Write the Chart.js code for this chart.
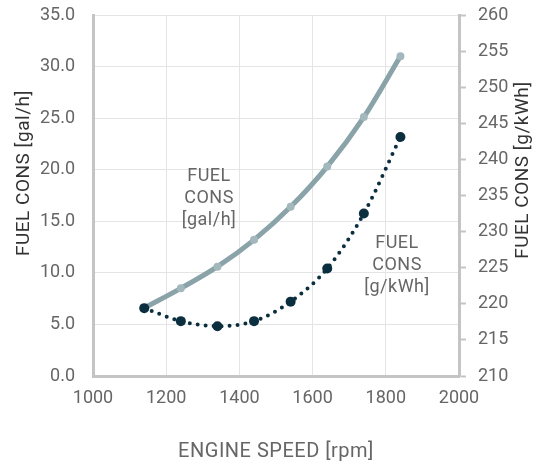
<!DOCTYPE html>
<html>
<head>
<meta charset="utf-8">
<script src="https://cdn.jsdelivr.net/npm/chart.js@4.4.0/dist/chart.umd.min.js"></script>
<style>
    html, body { margin: 0; padding: 0; background: #fff; }
    canvas { display: block; }
</style>
</head>
<body>
<canvas id="fuel-chart" width="545" height="467"></canvas>
<script>
// engine speed [rpm]
var engineSpeed = [1140, 1240, 1340, 1440, 1540, 1640, 1740, 1840];
// fuel consumption [gal/h]
var fuelGalH = [6.6, 8.5, 10.6, 13.2, 16.4, 20.3, 25.1, 31.0];
// specific fuel consumption [g/kWh]
var fuelGKWh = [219.4, 217.6, 216.9, 217.6, 220.3, 224.9, 232.5, 243.1];

var xTicks = [1000, 1200, 1400, 1600, 1800, 2000];
var leftTicks = [0, 5, 10, 15, 20, 25, 30, 35];
var rightTicks = [210, 215, 220, 225, 230, 235, 240, 245, 250, 255, 260];

var FONT = "Roboto, 'DejaVu Sans', sans-serif";
var axisColor = "#c4c4c4";
var gridColor = "#e4e4e4";
var textColor = "#666666";

function toPoints(xs, ys) {
    return xs.map((x, i) => ({ x: x, y: ys[i] }));
}

// titles and inline labels drawn on the canvas
var labelPlugin = {
    id: "labels",
    afterDraw: function (chart) {
        const ctx = chart.ctx;
        ctx.save();
        ctx.textAlign = "center";
        ctx.textBaseline = "middle";
        ctx.letterSpacing = "0.5px";

        ctx.fillStyle = textColor;
        ctx.font = "18px " + FONT;
        ["FUEL", "CONS", "[gal/h]"].forEach((t, i) => ctx.fillText(t, 209, 176 + i * 22));
        ["FUEL", "CONS", "[g/kWh]"].forEach((t, i) => ctx.fillText(t, 397, 243 + i * 22));

        ctx.font = "20px " + FONT;
        ctx.fillText("ENGINE SPEED [rpm]", 276, 452);

        ctx.fillStyle = "#333333";
        ctx.font = "19px " + FONT;
        ctx.save();
        ctx.translate(24, 173);
        ctx.rotate(-Math.PI / 2);
        ctx.fillText("FUEL CONS [gal/h]", 0, 0);
        ctx.restore();

        ctx.save();
        ctx.translate(523, 170);
        ctx.rotate(-Math.PI / 2);
        ctx.fillText("FUEL CONS [g/kWh]", 0, 0);
        ctx.restore();

        ctx.restore();
    }
};

// fixed box sizes so the plot area lands where the reference has it
function fitY(width) {
    return function (scale) {
        scale.width = width;
        scale.paddingTop = 0;
        scale.paddingBottom = 0;
    };
}

var ctx = document.getElementById("fuel-chart").getContext("2d");
var myChart = new Chart(ctx, {
    type: "line",
    data: {
        datasets: [{
            label: "FUEL CONS [gal/h]",
            data: toPoints(engineSpeed, fuelGalH),
            yAxisID: "y",
            order: 1,
            borderColor: "#8aa3a9",
            backgroundColor: "#a3b8bd",
            borderWidth: 5,
            pointRadius: 4,
            pointBorderWidth: 0,
            cubicInterpolationMode: "monotone"
        }, {
            label: "FUEL CONS [g/kWh]",
            data: toPoints(engineSpeed, fuelGKWh),
            yAxisID: "y2",
            order: 0,
            borderColor: "#0b2f3f",
            backgroundColor: "#0b2f3f",
            borderWidth: 4,
            borderDash: [0, 8],
            borderCapStyle: "round",
            pointRadius: 5,
            pointBorderWidth: 0,
            cubicInterpolationMode: "monotone"
        }]
    },
    options: {
        responsive: false,
        animation: false,
        devicePixelRatio: 1,
        layout: { padding: { top: 15 } },
        plugins: {
            legend: { display: false },
            tooltip: { enabled: false }
        },
        scales: {
            x: {
                type: "linear",
                min: 1000,
                max: 2000,
                afterBuildTicks: function (scale) {
                    scale.ticks = xTicks.map(v => ({ value: v }));
                },
                afterFit: function (scale) {
                    scale.height = 91;
                    scale.paddingLeft = 0;
                    scale.paddingRight = 0;
                },
                grid: { color: gridColor, drawTicks: false },
                border: { color: axisColor, width: 3 },
                ticks: {
                    color: textColor, font: { family: FONT, size: 18 }, padding: 12, maxRotation: 0,
                    callback: function (value) { return String(value); }
                }
            },
            y: {
                position: "left",
                min: 0,
                max: 35,
                afterBuildTicks: function (scale) {
                    scale.ticks = leftTicks.map(v => ({ value: v }));
                },
                afterFit: fitY(93),
                grid: { color: gridColor, drawTicks: false },
                border: { color: axisColor, width: 3 },
                ticks: {
                    color: textColor, font: { family: FONT, size: 18 }, padding: 18,
                    callback: function (value) { return value.toFixed(1); }
                }
            },
            y2: {
                position: "right",
                min: 210,
                max: 260,
                afterBuildTicks: function (scale) {
                    scale.ticks = rightTicks.map(v => ({ value: v }));
                },
                afterFit: fitY(86),
                grid: { drawOnChartArea: false, color: axisColor, tickLength: 7, tickWidth: 2 },
                border: { color: axisColor, width: 3 },
                ticks: {
                    color: textColor, font: { family: FONT, size: 18 }, padding: 12,
                    callback: function (value) { return String(value); }
                }
            }
        }
    },
    plugins: [labelPlugin]
});
</script>
</body>
</html>
